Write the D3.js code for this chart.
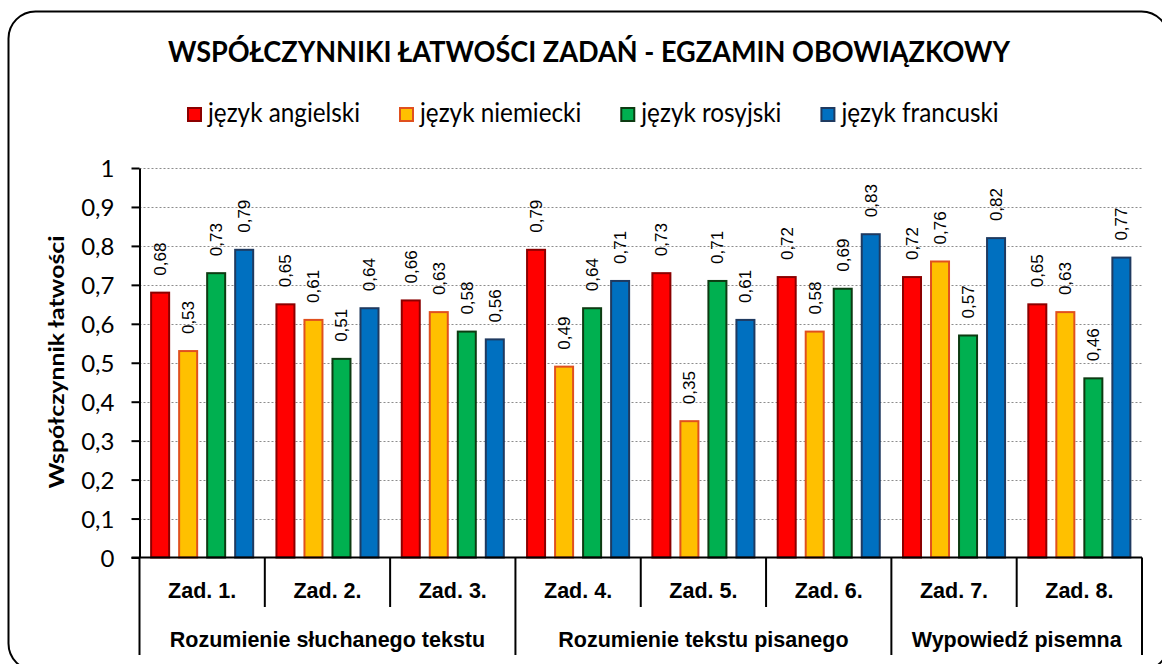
<!DOCTYPE html>
<meta charset="utf-8">
<script src="https://cdn.jsdelivr.net/npm/d3@7"></script>
<style>
body { margin: 0; background: #fff; }
text { fill: #000; }
</style>
<body>
<script>

// data
var tasks = ["Zad. 1.", "Zad. 2.", "Zad. 3.", "Zad. 4.", "Zad. 5.", "Zad. 6.", "Zad. 7.", "Zad. 8."];
var series = ["język angielski", "język niemiecki", "język rosyjski", "język francuski"];
var angielski = [0.68, 0.65, 0.66, 0.79, 0.73, 0.72, 0.72, 0.65];
var niemiecki = [0.53, 0.61, 0.63, 0.49, 0.35, 0.58, 0.76, 0.63];
var rosyjski  = [0.73, 0.51, 0.58, 0.64, 0.71, 0.69, 0.57, 0.46];
var francuski = [0.79, 0.64, 0.56, 0.71, 0.61, 0.83, 0.82, 0.77];
var groups = ["Rozumienie słuchanego tekstu", "Rozumienie tekstu pisanego", "Wypowiedź pisemna"];
var groupSizes = [3, 3, 2];
var yTicks = [0, 0.1, 0.2, 0.3, 0.4, 0.5, 0.6, 0.7, 0.8, 0.9, 1];

var values = [angielski, niemiecki, rosyjski, francuski];
var fills = ["#ff0000", "#ffc000", "#00b050", "#0070c0"];
var strokes = ["#8b0000", "#e0501e", "#0d3b12", "#1f3a60"];

var width = 1162, height = 664;
var plotLeft = 139.5, plotRight = 1142, plotTop = 168, plotBottom = 557.5;

var svg = d3.select("body").append("svg")
    .attr("width", width)
    .attr("height", height);

// frame (runs off the right and bottom edges like the original)
svg.append("rect")
    .attr("x", 8.5).attr("y", 11.5)
    .attr("width", 1160).attr("height", 659)
    .attr("rx", 27)
    .attr("fill", "#fff")
    .attr("stroke", "#000")
    .attr("stroke-width", 2);

// squeeze a Lato text to the width the Calibri original had
function squeeze(t, w) {
  t.attr("textLength", w).attr("lengthAdjust", "spacingAndGlyphs");
}

// title
var title = svg.append("text")
    .attr("x", 589).attr("y", 62)
    .attr("text-anchor", "middle")
    .style("font-family", "Lato, 'Open Sans', sans-serif")
    .style("font-weight", 700)
    .style("font-size", "28.5px")
    .text("WSPÓŁCZYNNIKI ŁATWOŚCI ZADAŃ - EGZAMIN OBOWIĄZKOWY");
squeeze(title, 842);

// scales
var x0 = d3.scaleBand().domain(tasks).range([plotLeft, plotRight]);
var x1 = d3.scaleBand().domain(series).range([0, x0.bandwidth()])
    .paddingInner(0.357).paddingOuter(0.415);
var y = d3.scaleLinear().domain([0, 1]).range([plotBottom, plotTop]);

// grid
svg.append("g").selectAll("line")
    .data(yTicks.slice(1))
    .enter().append("line")
    .attr("x1", plotLeft).attr("x2", plotRight)
    .attr("y1", function(d) { return Math.round(y(d)) + 0.5; })
    .attr("y2", function(d) { return Math.round(y(d)) + 0.5; })
    .attr("stroke", "#8c8c8c")
    .attr("stroke-width", 1)
    .attr("stroke-dasharray", "2,2");

// y axis
var yAxis = svg.append("g")
    .attr("transform", "translate(" + plotLeft + ",0)")
    .call(d3.axisLeft(y).tickValues(yTicks).tickSize(8).tickSizeOuter(0)
      .tickFormat(function(d) { return d3.format(".1~f")(d).replace(".", ","); }));
yAxis.select(".domain").attr("stroke", "#000").attr("stroke-width", 2);
yAxis.selectAll(".tick line").attr("stroke", "#000").attr("stroke-width", 2);
yAxis.selectAll(".tick text")
    .attr("x", -25)
    .attr("dy", "0.36em")
    .style("font-family", "Lato, 'Open Sans', sans-serif")
    .style("font-size", "24px")
    .attr("fill", "#000");

var yTitle = svg.append("text")
    .attr("transform", "translate(64,362) rotate(-90)")
    .attr("text-anchor", "middle")
    .style("font-family", "Lato, 'Open Sans', sans-serif")
    .style("font-weight", 700)
    .style("font-size", "21px")
    .text("Współczynnik łatwości");
squeeze(yTitle, 253);

// bars
var rows = tasks.map(function(t, i) {
  return { task: t, vals: series.map(function(s, j) { return { s: s, j: j, v: values[j][i] }; }) };
});

var grp = svg.append("g").selectAll("g")
    .data(rows)
    .enter().append("g")
    .attr("transform", function(d) { return "translate(" + x0(d.task) + ",0)"; });

grp.selectAll("rect")
    .data(function(d) { return d.vals; })
    .enter().append("rect")
    .attr("x", function(d) { return x1(d.s); })
    .attr("y", function(d) { return y(d.v); })
    .attr("width", x1.bandwidth())
    .attr("height", function(d) { return plotBottom - y(d.v); })
    .attr("fill", function(d) { return fills[d.j]; })
    .attr("stroke", function(d) { return strokes[d.j]; })
    .attr("stroke-width", 2);

grp.selectAll("text")
    .data(function(d) { return d.vals; })
    .enter().append("text")
    .attr("transform", function(d) {
      return "translate(" + (x1(d.s) + x1.bandwidth() / 2 + 6) + "," + (y(d.v) - 17) + ") rotate(-90)";
    })
    .style("font-family", "'Liberation Sans', Arial, sans-serif")
    .style("font-size", "17px")
    .text(function(d) { return d3.format(".2f")(d.v).replace(".", ","); });

// x axis
svg.append("line")
    .attr("x1", plotLeft - 8).attr("x2", plotRight)
    .attr("y1", plotBottom).attr("y2", plotBottom)
    .attr("stroke", "#000").attr("stroke-width", 2);

var bounds = [0];
groupSizes.reduce(function(a, n) { bounds.push(a + n); return a + n; }, 0);

var xPos = tasks.map(function(t) { return x0(t); }).concat([plotRight]);
svg.append("g").selectAll("line")
    .data(xPos)
    .enter().append("line")
    .attr("x1", function(d) { return d; })
    .attr("x2", function(d) { return d; })
    .attr("y1", plotBottom)
    .attr("y2", function(d, i) { return bounds.indexOf(i) >= 0 ? 655 : 607; })
    .attr("stroke", "#000").attr("stroke-width", 2);

svg.append("g").selectAll("text")
    .data(tasks)
    .enter().append("text")
    .attr("x", function(d) { return x0(d) + x0.bandwidth() / 2; })
    .attr("y", 598)
    .attr("text-anchor", "middle")
    .style("font-family", "'Liberation Sans', Arial, sans-serif")
    .style("font-weight", 700)
    .style("font-size", "21.5px")
    .text(function(d) { return d; });

svg.append("g").selectAll("text")
    .data(groups)
    .enter().append("text")
    .attr("x", function(d, i) { return (xPos[bounds[i]] + xPos[bounds[i + 1]]) / 2; })
    .attr("y", 647)
    .attr("text-anchor", "middle")
    .style("font-family", "'Liberation Sans', Arial, sans-serif")
    .style("font-weight", 700)
    .style("font-size", "21.5px")
    .text(function(d) { return d; });

// legend: Lato squeezed so the first entry is as wide as in the original
var legend = svg.append("g");
var lx = 187;
var k = null;
series.forEach(function(s, j) {
  legend.append("rect")
      .attr("x", lx + 1).attr("y", 108)
      .attr("width", 13).attr("height", 13)
      .attr("fill", fills[j])
      .attr("stroke", strokes[j])
      .attr("stroke-width", 2);
  var t = legend.append("text")
      .attr("x", lx + 21).attr("y", 122)
      .style("font-family", "Lato, 'Open Sans', sans-serif")
      .style("font-size", "26px")
      .text(s);
  var nat = t.node().getComputedTextLength();
  if (k === null) k = 152 / nat;
  var w = nat * k;
  squeeze(t, w);
  lx = lx + 21 + w + 39;
});

</script>
</body>
</html>
